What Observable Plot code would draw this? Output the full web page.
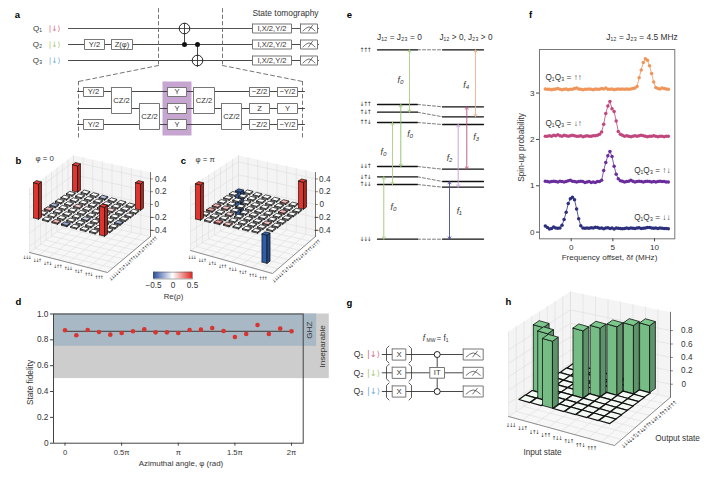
<!DOCTYPE html>
<html><head><meta charset="utf-8">
<script src="https://cdn.jsdelivr.net/npm/d3@7"></script>
<script src="https://cdn.jsdelivr.net/npm/@observablehq/plot@0.6"></script>
<style>html,body{margin:0;padding:0;background:#fff}#c{position:relative;width:716px;height:484px;overflow:hidden}#c svg{position:absolute;background:transparent}</style>
</head><body><div id="c"></div>
<script>
// ---------- data ----------
const stateLabels = ["↓↓↓","↓↓↑","↓↑↓","↓↑↑","↑↓↓","↑↓↑","↑↑↓","↑↑↑"];
const levelLabels = ["↑↑↑","↓↑↑","↑↓↑","↑↑↓","↓↓↑","↓↑↓","↑↓↓","↓↓↓"];
// panel d
const phiIndex = [0,1,2,3,4,5,6,7,8,9,10,11,12,13,14,15,16,17,18,19,20];
const fidelity = [.874,.835,.876,.861,.84,.853,.866,.881,.858,.858,.853,.876,.879,.892,.869,.822,.845,.915,.845,.887,.866];
const fidelityMean = .865;
// panel f
const freq = [-3.1,-2.85,-2.6,-2.35,-2.1,-1.85,-1.6,-1.35,-1.1,-.85,-.6,-.35,-.1,.15,.4,.65,.9,1.15,1.4,1.65,1.9,2.15,2.4,2.65,2.9,3.15,3.4,3.65,3.9,4.15,4.4,4.65,4.9,5.15,5.4,5.65,5.9,6.15,6.4,6.65,6.9,7.15,7.4,7.65,7.9,8.15,8.4,8.65,8.9,9.15,9.4,9.65,9.9,10.15,10.4,10.65,10.9,11.15,11.4,11.65];
const spinDD = [.13,.10,.07,.08,.11,.09,.085,.09,.15,.27,.43,.62,.72,.75,.70,.50,.29,.14,.09,.085,.09,.085,.095,.09,.105,.10,.085,.09,.075,.09,.095,.08,.09,.07,.09,.085,.08,.075,.08,.09,.08,.09,.085,.08,.09,.095,.08,.085,.09,.10,.10,.09,.085,.09,.08,.09,.085,.08,.08,.075];
const spinUD = [1.10,1.09,1.08,1.09,1.10,1.09,1.08,1.10,1.09,1.08,1.09,1.11,1.12,1.10,1.09,1.08,1.09,1.10,1.09,1.07,1.08,1.09,1.07,1.08,1.07,1.09,1.09,1.12,1.33,1.50,1.65,1.74,1.63,1.42,1.25,1.15,1.11,1.10,1.08,1.09,1.10,1.12,1.10,1.08,1.09,1.10,1.09,1.08,1.09,1.10,1.09,1.08,1.09,1.08,1.09,1.10,1.09,1.09,1.08,1.08];
const spinDU = [2.07,2.07,2.08,2.07,2.09,2.08,2.10,2.08,2.07,2.09,2.08,2.07,2.08,2.09,2.08,2.07,2.07,2.08,2.06,2.07,2.08,2.07,2.07,2.08,2.08,2.09,2.11,2.16,2.33,2.56,2.72,2.82,2.66,2.60,2.40,2.17,2.11,2.09,2.07,2.08,2.07,2.06,2.07,2.08,2.07,2.08,2.09,2.08,2.07,2.06,2.07,2.07,2.08,2.07,2.06,2.07,2.07,2.06,2.07,2.07];
const spinUU = [3.09,3.08,3.08,3.07,3.08,3.09,3.10,3.08,3.07,3.08,3.09,3.07,3.08,3.08,3.10,3.11,3.09,3.08,3.07,3.08,3.08,3.09,3.08,3.07,3.09,3.08,3.08,3.10,3.09,3.11,3.08,3.08,3.09,3.07,3.08,3.09,3.08,3.09,3.08,3.09,3.08,3.09,3.10,3.11,3.14,3.33,3.50,3.66,3.74,3.71,3.59,3.42,3.24,3.12,3.10,3.09,3.11,3.10,3.09,3.08];
// panels b, c: non-negligible elements of Re(rho): [input, output, value]
const rhoB = [[0,0,.55],[0,7,.41],[7,7,.41],[7,0,.45],[0,2,.1],[0,3,-.12],[2,0,.1],[3,0,-.14],[3,7,-.1],[7,3,-.12],[6,2,-.08],[2,4,.06],[4,2,-.06],[5,5,.05]];
const rhoC = [[0,0,.55],[7,7,.42],[7,0,-.44],[0,7,-.38],[0,3,.1],[1,3,.08],[0,2,.12],[2,0,.14],[3,0,.08],[6,2,.08],[6,5,.1],[5,7,.1],[2,2,.06]];
// panel h: [input, output, value]
const truthTable = [[0,2,.98],[1,1,1.0],[2,0,1.0],[3,3,1.0],[4,4,1.02],[5,5,1.02],[6,6,1.02],[7,7,1.0]];

// ---------- helpers ----------
const FONT = "Liberation Sans, Arial, sans-serif";
const INK = "#333";
const L = (pts,o={}) => Plot.line(pts,{x:d=>d[0],y:d=>d[1],stroke:"#333",strokeWidth:.9,...o});
const T = (x,y,text,o={}) => Plot.text([0],{x:()=>x,y:()=>y,text:()=>text,fontSize:8.2,fill:INK,fontFamily:FONT,...o});
const rectPts = (x0,y0,x1,y1)=>[[x0,y0],[x1,y0],[x1,y1],[x0,y1],[x0,y0]];
const Box = (x0,y0,x1,y1,text,o={}) => [
  L(rectPts(x0,y0,x1,y1),{fill:"#fff",stroke:"#777",strokeWidth:1,...o}),
  text?T((x0+x1)/2,(y0+y1)/2,text,{fontSize:o.fontSize||7.6}):[]
];
const Dot = (x,y,r,fill,stroke)=>Plot.dot([0],{x:()=>x,y:()=>y,r,fill,stroke:stroke||"none",strokeWidth:1});
const Meter = (x0,x1,yc,h=4.5)=>{
  const c=(x0+x1)/2, s=(x1-x0)/17;
  return [L(rectPts(x0,yc-h,x1,yc+h),{fill:"#fff",stroke:"#777",strokeWidth:1}),
    L([[c-6*s,yc+2.5],[c-3*s,yc-.3],[c,yc-1.6],[c+3*s,yc-.3],[c+6*s,yc+2.5]],{strokeWidth:.7}),
    L([[c-.5,yc+2.5],[c+3.5*s,yc-3.2]],{strokeWidth:.7})];
};
const Ket = (x,y,col,fs=8)=>T(x,y,"|↓⟩",{fill:col,fontSize:fs,fontFamily:"DejaVu Sans"});
const Q = (x,y,n,fs=8)=>T(x,y,"Q"+n,{fontSize:fs});
const QCOL = ["#d8647e","#a9c56c","#6ea6d6"];

const cmap = d3.scaleLinear().domain([-.5,0,.5]).range(["#2b4fa0","#ffffff","#e0302b"]).clamp(true);

function panel3D(cfg){
  const {A,B,C,D,WH,zmin,scale,c00,c70,c77,c07,foot,cells,ticks,tickFmt,front,right,fs,cellFill,cellSW,flat}=cfg;
  const bl=(p,q,r,s,u,v)=>[p[0]*(1-u)*(1-v)+q[0]*u*(1-v)+r[0]*u*v+s[0]*(1-u)*v, p[1]*(1-u)*(1-v)+q[1]*u*(1-v)+r[1]*u*v+s[1]*(1-u)*v];
  const floor=(u,v)=>bl(A,B,C,D,u,v);
  const cell=(i,j)=>bl(c00,c70,c77,c07,i/7,j/7);
  const m=[];
  const up=(p,h)=>[p[0],p[1]-h];
  m.push(L([A,B,C,D,A],{fill:"#f7f7f7",stroke:"none"}));
  m.push(L([A,D,up(D,WH),up(A,WH),A],{fill:"#f4f4f4",stroke:"none"}));
  m.push(L([D,C,up(C,WH),up(D,WH),D],{fill:"#f4f4f4",stroke:"none"}));
  const grid=[];let g=0;
  for(let k=0;k<=8;k++){const t=k/8;
    grid.push(...[floor(t,0),floor(t,1),up(floor(t,1),WH)].map(p=>({p,g})));g++;
    grid.push(...[floor(1,t),floor(0,t),up(floor(0,t),WH)].map(p=>({p,g})));g++;
  }
  for(const z of ticks){const h=(z-zmin)*scale;
    grid.push(...[up(A,h),up(D,h),up(C,h)].map(p=>({p,g})));g++;
  }
  m.push(Plot.line(grid,{x:d=>d.p[0],y:d=>d.p[1],z:"g",stroke:"#dedede",strokeWidth:.6}));
  m.push(L([A,B,C],{stroke:"#777",strokeWidth:.8}));
  m.push(L([C,up(C,WH)],{stroke:"#555",strokeWidth:.8}));
  // z axis
  for(const z of ticks){const y=C[1]-(z-zmin)*scale;
    m.push(L([[C[0],y],[C[0]+2,y]],{stroke:"#555",strokeWidth:.7}));
    const lab=tickFmt(z);
    m.push(lab==="0"?T(cfg.zeroX,y,lab,{textAnchor:"start"}):T(cfg.labelX,y,lab,{textAnchor:"end"}));
  }
  // cells, painter's order
  const order=[];for(let i=0;i<8;i++)for(let j=0;j<8;j++)order.push([i,j]);
  order.sort((a,b)=>(a[0]-a[1])-(b[0]-b[1])||(a[0]+a[1])-(b[0]+b[1]));
  const val=new Map(cells.map(d=>[d[0]+","+d[1],d[2]]));
  const du=[(c70[0]-c00[0]+c77[0]-c07[0])/14,(c70[1]-c00[1]+c77[1]-c07[1])/14];
  const dv=[(c07[0]-c00[0]+c77[0]-c70[0])/14,(c07[1]-c00[1]+c77[1]-c70[1])/14];
  const polys=[];let id=0;
  const addPoly=(pts,fill,sw)=>{pts=[...pts,pts[0]];pts.forEach(p=>polys.push({x:p[0],y:p[1],id,fill,sw}));id++;};
  for(const [i,j] of order){
    const v=val.get(i+","+j);
    const big=v!==undefined&&Math.abs(v)>=.2;
    const c=cell(i,j);
    const f=big?(cfg.barFoot||foot):foot;
    const ex=[du[0]*f/2,du[1]*f/2],ey=[dv[0]*f/2,dv[1]*f/2];
    const q=(a,b)=>[c[0]+a*ex[0]+b*ey[0],c[1]+a*ex[1]+b*ey[1]];
    const P=[q(-1,-1),q(1,-1),q(1,1),q(-1,1)];
    if(!big&&flat){addPoly(P,cellFill,cellSW);continue;}
    let base=cellFill;
    if(v!==undefined) base=cfg.barColor?cfg.barColor:cmap(v*1.8);
    if(big&&!cfg.barColor) base=v>0?"#e0352d":"#2f5ea8";
    const h=big?v*scale:1.1;
    const top=h>0?h:0, bot=h>0?0:h;
    const Pt=P.map(p=>up(p,top)),Pb=P.map(p=>up(p,bot));
    const sw=big?cfg.barSW:cellSW;
    const dark=big?d3.color(base).darker(.7).formatHex():base;
    addPoly([Pb[0],Pb[1],Pt[1],Pt[0]],base,sw);
    addPoly([Pb[1],Pb[2],Pt[2],Pt[1]],dark,sw);
    addPoly(Pt,big?d3.color(base).brighter(.15).formatHex():base,sw);
  }
  m.push(Plot.line(polys,{x:"x",y:"y",z:"id",fill:"fill",stroke:"#111",strokeWidth:"sw"}));
  // tick labels
  stateLabels.forEach((s,k)=>{const t=k/7;
    m.push(T(front[0][0]+(front[1][0]-front[0][0])*t,front[0][1]+(front[1][1]-front[0][1])*t,s,{fontSize:fs,fontFamily:"DejaVu Sans"}));
    m.push(T(right[0][0]+(right[1][0]-right[0][0])*t,right[0][1]+(right[1][1]-right[0][1])*t,s,{fontSize:fs,rotate:-45,fontFamily:"DejaVu Sans"}));
  });
  return m;
}

// ---------- schematic + 3D layer ----------
const marks=[];
// panel letters
[["a",17,14],["b",18,160],["c",183,160],["d",18,301],["e",349,14],["f",530,14],["g",349,302],["h",508,301]]
  .forEach(([s,x,y])=>marks.push(T(x,y,s,{fontWeight:"bold",fontSize:9.5,fill:"#000"})));

// --- a ---
const ay=[28,44,60];
ay.forEach((y,i)=>{
  marks.push(Q(37,y,["₁","₂","₃"][i]));
  marks.push(Ket(54,y,QCOL[i],7.5));
  marks.push(L([[68,y],[318,y]],{strokeWidth:i==0?1.1:.9,stroke:i==0?"#555":"#333"}));
});
marks.push(L([[158,8],[158,65]],{stroke:"#666",strokeDasharray:"3.5,3"}));
marks.push(L([[222,8],[222,65]],{stroke:"#666",strokeDasharray:"3.5,3"}));
marks.push(L([[158,65],[78,81]],{stroke:"#666",strokeDasharray:"4,3"}));
marks.push(L([[222,65],[302,81]],{stroke:"#666",strokeDasharray:"4,3"}));
marks.push(L([[78,81],[78,138]],{stroke:"#666",strokeDasharray:"3.5,3"}));
marks.push(L([[302,81],[302,138]],{stroke:"#666",strokeDasharray:"3.5,3"}));
marks.push(Box(84,39,104,49,"Y/2"),Box(111,39,132,49,"Z(φ)"));
marks.push(L([[184,23],[184,44]]),L([[197,44],[197,66]]));
marks.push(Dot(184,28,5.3,"none","#222"),Dot(197,60,5.3,"none","#222"),Dot(184,44,2.5,"#111"),Dot(197,44,2.5,"#111"));
ay.forEach(y=>{marks.push(Box(252,y-4.5,291,y+4.5,"I,X/2,Y/2"));marks.push(Meter(300,317,y));});
marks.push(T(285,13,"State tomography",{fontSize:8.4}));
// sub-circuit
marks.push(L(rectPts(162,81,191,135),{fill:"#c6a6d0",stroke:"none"}));
[91,108,124].forEach(y=>marks.push(L([[77,y],[304,y]])));
marks.push(Box(83,87,103,96,"Y/2"),Box(83,119,103,129,"Y/2"));
marks.push(Box(111,87,131,113,"CZ/2"),Box(139,103,159,129,"CZ/2"));
[[87,96],[103,113],[119,129]].forEach(([a,b])=>marks.push(Box(167,a,186,b,"Y")));
marks.push(Box(193,87,214,113,"CZ/2"),Box(221,103,241,129,"CZ/2"));
marks.push(Box(249,87,269,96,"−Z/2"),Box(249,103,269,113,"Z"),Box(249,119,269,129,"−Z/2"));
marks.push(Box(277,87,297,96,"−Y/2"),Box(277,103,297,113,"Y"),Box(277,119,297,129,"−Y/2"));

// --- b, c ---
const zfmt=z=>z===0?"0":(z<0?"−":"")+Math.abs(z).toFixed(1);
const rhoTicks=[-.4,-.2,0,.2,.4];
marks.push(panel3D({A:[29,252],B:[107,272],C:[150,236],D:[73,219],WH:64,zmin:-.5,scale:64,
  c00:[37,217],c70:[103,234],c77:[139,208],c07:[76,190],foot:.6,barFoot:.55,cells:rhoB,ticks:rhoTicks,tickFmt:zfmt,
  front:[[26,257],[98,277]],right:[[112,277],[153,240]],fs:4.8,cellFill:"#fff",cellSW:.75,barSW:.7,labelX:166,zeroX:154}));
marks.push(panel3D({A:[190,250],B:[272,273],C:[315,236],D:[238,219],WH:64,zmin:-.5,scale:64,
  c00:[199,218],c70:[265.5,233],c77:[302,207],c07:[239,190],foot:.6,barFoot:.55,cells:rhoC,ticks:rhoTicks,tickFmt:zfmt,
  front:[[191,257],[262,278]],right:[[275,279],[316,243]],fs:4.8,cellFill:"#fff",cellSW:.75,barSW:.7,labelX:330,zeroX:319}));
marks.push(T(35,158,"φ = 0",{textAnchor:"start",fontSize:7.8}),T(195,159,"φ = π",{textAnchor:"start",fontSize:7.8}));
// colour bar
const cbSteps=d3.range(0,39);
marks.push(Plot.rect(cbSteps,{x1:i=>153+i,x2:i=>154.2+i,y1:()=>271.7,y2:()=>278.5,fill:i=>cmap(-.5+i/38),inset:0}));
marks.push(L(rectPts(153,271.7,192,278.5),{stroke:"#555",strokeWidth:.5}));
marks.push(T(153,285,"−0.5"),T(172.5,285,"0"),T(192,285,"0.5"),T(173,296,"Re(ρ)",{fontSize:7.8}));

// --- d labels ---
marks.push(T(30,382,"State fidelity",{rotate:-90,fontSize:8.3}));
marks.push(T(180.5,463,"Azimuthal angle, φ (rad)",{fontSize:7.9}));

// --- e ---
const lx=[377,417],rx=[442,483];
const lyL=[49.3,104,111.7,122,166,176.3,184,238.7];
const lyR=[49.3,106.3,116.3,124,168.7,181,186.7,238.7];
lyL.forEach((y,i)=>{
  marks.push(L([[lx[0],y],[lx[1],y]],{strokeWidth:1.3,stroke:"#111"}));
  marks.push(L([[rx[0],lyR[i]],[rx[1],lyR[i]]],{strokeWidth:1.3,stroke:"#111"}));
  marks.push(L([[lx[1],y],[rx[0],lyR[i]]],{strokeDasharray:"3,2",stroke:"#444",strokeWidth:.7}));
  marks.push(T(370,y,levelLabels[i],{textAnchor:"end",fontSize:6,fontFamily:"DejaVu Sans"}));
});
const Arrow=(x,y1,y2,col,sw=.9)=>[
  L([[x,y1],[x,y2]],{stroke:col,strokeWidth:sw}),
  L([[x-1.4,y1+2.4],[x,y1],[x+1.4,y1+2.4]],{stroke:col,strokeWidth:.8}),
  L([[x-1.4,y2-2.4],[x,y2],[x+1.4,y2-2.4]],{stroke:col,strokeWidth:.8})];
const GRN="#a8d080";
marks.push(Arrow(409,49.3,111.7,GRN),Arrow(400.3,104,166,"#8fbf68"),Arrow(392,122,184,GRN),Arrow(383.3,176.3,238.7,"#9ccb76"));
marks.push(Arrow(475,49.3,116.3,"#efb28c"),Arrow(466.3,106.3,168.7,"#b5527f"),Arrow(457.7,124,186.7,"#c79ad8"),Arrow(449,181,238.7,"#4b4a8e"));
[[400,80,"f₀"],[409.7,134,"f₀"],[383,152,"f₀"],[393,207,"f₀"],[465.7,85,"f₄"],[475.7,137,"f₃"],[449,158,"f₂"],[458.7,211,"f₁"]]
  .forEach(([x,y,s])=>marks.push(T(x,y,s,{fontStyle:"italic",fontSize:8.6})));
marks.push(T(399,37,"J₁₂ = J₂₃ = 0",{fontSize:8.4}),T(465.5,37,"J₁₂ > 0, J₂₃ > 0",{fontSize:8.2}));

// --- f labels ---
marks.push(T(521,147,"Spin-up probability",{rotate:-90,fontSize:8.3}));
marks.push(T(609,257,"Frequency offset, δf (MHz)",{fontSize:8.1}));
marks.push(T(641.5,37,"J₁₂ = J₂₃ = 4.5 MHz",{fontSize:8.4}));
marks.push(T(545,77,"Q₁Q₃ = ↑↑",{textAnchor:"start"}),T(545,123,"Q₁Q₃ = ↓↑",{textAnchor:"start"}),T(670,170,"Q₁Q₃ = ↑↓",{textAnchor:"end"}),T(670,217,"Q₁Q₃ = ↓↓",{textAnchor:"end"}));

// --- g ---
const gy=[354,372.3,391];
gy.forEach((y,i)=>{
  marks.push(Q(358,y,["₁","₂","₃"][i],8.6));
  marks.push(Ket(373,y,QCOL[i],8.4));
  marks.push(L([[381.7,y],[462.7,y]]));
  marks.push(Box(391.7,y-5.6,405.3,y+5.6,"X",{fontSize:7.8}));
  marks.push(L([[388.5,y-8.5],[386,y-6],[386,y+6],[388.5,y+8.5]],{strokeWidth:.8}));
  marks.push(L([[408.5,y-8.5],[411,y-6],[411,y+6],[408.5,y+8.5]],{strokeWidth:.8}));
  marks.push(Meter(462.7,482.7,y,5.5));
});
marks.push(L([[436.7,354],[436.7,391]]));
marks.push(Box(429.3,367,444,377.7,"IT",{fontSize:7.6}));
marks.push(Dot(436.7,354,3,"#fff","#222"),Dot(436.7,391,3,"#fff","#222"));
marks.push(T(423.5,338,"f",{fontStyle:"italic",fontSize:8.2}));
marks.push(T(430.5,339.5,"MW",{fontSize:5}));
marks.push(T(436,338,"= f₁",{fontSize:8.2,textAnchor:"start"}));

// --- h ---
marks.push(panel3D({A:[508,416],B:[614,445],C:[670,396.7],D:[570,376],WH:85,zmin:-.194,scale:67,
  c00:[527,398.3],c70:[607,419.3],c77:[647,388.7],c07:[575,366.7],foot:1,barFoot:.92,flat:true,cells:truthTable,
  ticks:[0,.2,.4,.6,.8],tickFmt:z=>z===0?"0":z.toFixed(1),
  front:[[510,425],[590.7,447.7]],right:[[625,444],[671.7,405]],fs:5.4,cellFill:"#f3f9f3",cellSW:1.2,barSW:.8,barColor:"#76bd85",labelX:692,zeroX:681}));
marks.push(T(677,438,"Output state",{fontSize:8.2}),T(542,452,"Input state",{fontSize:8.2}));

const bg=Plot.plot({width:716,height:484,margin:0,x:{domain:[0,716],range:[0,716],axis:null},y:{domain:[0,484],range:[0,484],axis:null},color:{type:"identity"},style:{fontFamily:FONT,background:"transparent"},marks:marks.flat(Infinity)});
bg.style.left="0";bg.style.top="0";
// tighten the runs of spin arrows, which are set in a wide glyph
bg.querySelectorAll("text").forEach(t=>{const s=t.textContent;if(/^[↑↓]+$/.test(s))t.style.letterSpacing="-1.35px";});
document.getElementById("c").appendChild(bg);

// ---------- d ----------
const piTicks=[0,Math.PI/2,Math.PI,1.5*Math.PI,2*Math.PI];
const piNames=["0","0.5π","π","1.5π","2π"];
const dData=phiIndex.map((k,i)=>({phi:k*Math.PI/10,f:fidelity[i]}));
const dPlot=Plot.plot({width:340,height:165,marginLeft:53,marginRight:37.3,marginTop:13.5,marginBottom:22.3,
  x:{domain:[-.319,6.607]},y:{domain:[0,1]},style:{fontFamily:FONT,background:"transparent"},
  marks:[
    Plot.rect([0],{x1:()=>-.319,x2:()=>7.33,y1:()=>.5,y2:()=>1,fill:"#cdcdcd"}),
    Plot.rect([0],{x1:()=>-.319,x2:()=>6.98,y1:()=>.75,y2:()=>1,fill:"#a8b8c4"}),
    Plot.frame({stroke:"#444",strokeWidth:1}),
    Plot.line([0,2*Math.PI],{x:d=>d,y:()=>fidelityMean,stroke:"#555",strokeWidth:1.2}),
    Plot.dot(dData,{x:"phi",y:"f",r:2.3,fill:"#d9342f"}),
    Plot.axisY([0,.2,.4,.6,.8,1],{tickSize:3,tickPadding:2,fontSize:8.3,label:null,fill:INK,tickFormat:d=>d===0?"0":d.toFixed(1),stroke:"#444"}),
    Plot.axisX(piTicks,{tickSize:3,tickPadding:3,fontSize:7.6,label:null,fill:INK,tickFormat:d=>piNames[piTicks.indexOf(d)],stroke:"#444"}),
    Plot.text([0],{x:()=>6.607,y:()=>.875,text:()=>"GHZ",rotate:-90,fontSize:8.1,fill:INK,dx:6.5}),
    Plot.text([0],{x:()=>6.607,y:()=>.75,text:()=>"Inseparable",rotate:-90,fontSize:8.1,fill:INK,dx:19})
  ]});
dPlot.style.left="0";dPlot.style.top="300px";
document.getElementById("c").appendChild(dPlot);

// ---------- f ----------
const fSeries=[["↓↓",spinDD,"#2d2f7c"],["↑↓",spinUD,"#6a2d9c"],["↓↑",spinDU,"#c0477e"],["↑↑",spinUU,"#f0955a"]];
const fData=fSeries.flatMap(([s,v,c])=>v.map((y,i)=>({s,x:freq[i],y,c})));
const fPlot=Plot.plot({width:180,height:225,marginLeft:29,marginRight:15.7,marginTop:19,marginBottom:16.7,
  x:{domain:[-3.8,12.43]},y:{domain:[-.144,3.94]},color:{type:"identity"},style:{fontFamily:FONT,background:"transparent"},
  marks:[
    Plot.frame({stroke:"#777",strokeWidth:1}),
    Plot.line(fData,{x:"x",y:"y",z:"s",stroke:"c",strokeWidth:.8}),
    Plot.dot(fData,{x:"x",y:"y",r:1.75,fill:"c"}),
    Plot.axisY([0,1,2,3],{tickSize:3,tickPadding:2,fontSize:8.1,label:null,fill:INK,stroke:"#444"}),
    Plot.axisX([0,5,10],{tickSize:3,tickPadding:2,fontSize:8.1,label:null,fill:INK,stroke:"#444"})
  ]});
fPlot.style.left="510px";fPlot.style.top="30px";
document.getElementById("c").appendChild(fPlot);
</script></body></html>
